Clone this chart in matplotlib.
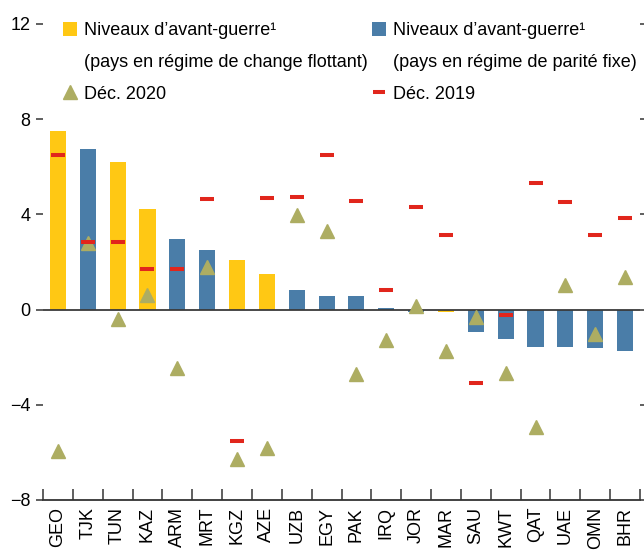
import numpy as np
import matplotlib
matplotlib.use('Agg')
import matplotlib.pyplot as plt
from matplotlib.patches import Patch
from matplotlib.lines import Line2D

plt.rcParams['font.family'] = ['Liberation Sans', 'DejaVu Sans']
plt.rcParams['font.size'] = 13

countries = ['GEO', 'TJK', 'TUN', 'KAZ', 'ARM', 'MRT', 'KGZ', 'AZE', 'UZB', 'EGY',
             'PAK', 'IRQ', 'JOR', 'MAR', 'SAU', 'KWT', 'QAT', 'UAE', 'OMN', 'BHR']
prewar = [7.5, 6.75, 6.2, 4.24, 2.98, 2.52, 2.1, 1.51, 0.84, 0.59,
          0.59, 0.05, -0.08, -0.08, -0.93, -1.25, -1.56, -1.56, -1.6, -1.73]
floating = [True, False, True, True, False, False, True, True, False, False,
            False, False, False, True, False, False, False, False, False, False]
dec2019 = [6.51, 2.82, 2.82, 1.69, 1.69, 4.63, -5.5, 4.71, 4.75, 6.51,
           4.58, 0.81, 4.29, 3.12, -3.1, -0.24, 5.3, 4.54, 3.12, 3.83]
dec2020 = [-5.94, 2.78, -0.39, 0.6, -2.47, 1.77, -6.26, -5.8, 3.96, 3.3,
           -2.71, -1.28, 0.14, -1.76, -0.29, -2.65, -4.94, 1.02, -1.03, 1.37]

yellow = '#FFC814'
blue = '#4A7DA8'
olive = '#ADAD62'
red = '#E1261C'

fig = plt.figure(figsize=(6.44, 5.5), dpi=100)
ax = fig.add_axes([43/644, 1-500/550, (640-43)/644, (500-24)/550])

x = np.arange(len(countries))
colors = [yellow if f else blue for f in floating]
ax.bar(x, prewar, width=0.54, color=colors, zorder=1)
ax.axhline(0, color='#3a3a3a', lw=1.3, zorder=2)
ax.plot(x, dec2020, ls='none', marker='^', ms=9.5, color=olive, zorder=3)
ax.plot(x, dec2019, ls='none', marker='_', ms=10, mew=2.9, color=red, zorder=4)

ax.set_xlim(-0.5, 19.5)
ax.set_ylim(-8, 12)
ax.set_yticks([-8, -4, 0, 4, 8, 12])
ax.tick_params(axis='y', direction='out', length=5, width=1.2, color='#444444',
               left=True, right=True, pad=4)
ax.set_xticks(x)
ax.set_xticklabels(countries, rotation=90)
ax.tick_params(axis='x', which='major', length=0, pad=5)
ax.set_xticks(np.arange(-0.5, 20, 1), minor=True)
ax.tick_params(axis='x', which='minor', direction='in', length=8, width=1.2, color='#444444')
for s in ['left', 'right', 'top']:
    ax.spines[s].set_visible(False)
ax.spines['bottom'].set_color('#333333')
ax.spines['bottom'].set_linewidth(1.3)

blank = Patch(facecolor='none', edgecolor='none')
h1 = [Patch(facecolor=yellow, edgecolor='none'), blank,
      Line2D([], [], ls='none', marker='^', ms=9.5, color=olive)]
l1 = ['Niveaux d’avant-guerre¹', '(pays en régime de change flottant)', 'Déc. 2020']
h2 = [Patch(facecolor=blue, edgecolor='none'), blank,
      Line2D([], [], ls='none', marker='_', ms=9, mew=2.9, color=red)]
l2 = ['Niveaux d’avant-guerre¹', '(pays en régime de parité fixe)', 'Déc. 2019']

kw = dict(loc='upper left', frameon=False, borderpad=0, borderaxespad=0,
          handlelength=0.78, handleheight=0.78, handletextpad=0.39, labelspacing=0.82)
leg1 = fig.legend(h1, l1, bbox_to_anchor=(63/644, 1-22/550), **kw)
leg2 = fig.legend(h2, l2, bbox_to_anchor=(372/644, 1-22/550), **kw)

fig.savefig('out.png', dpi=100)
